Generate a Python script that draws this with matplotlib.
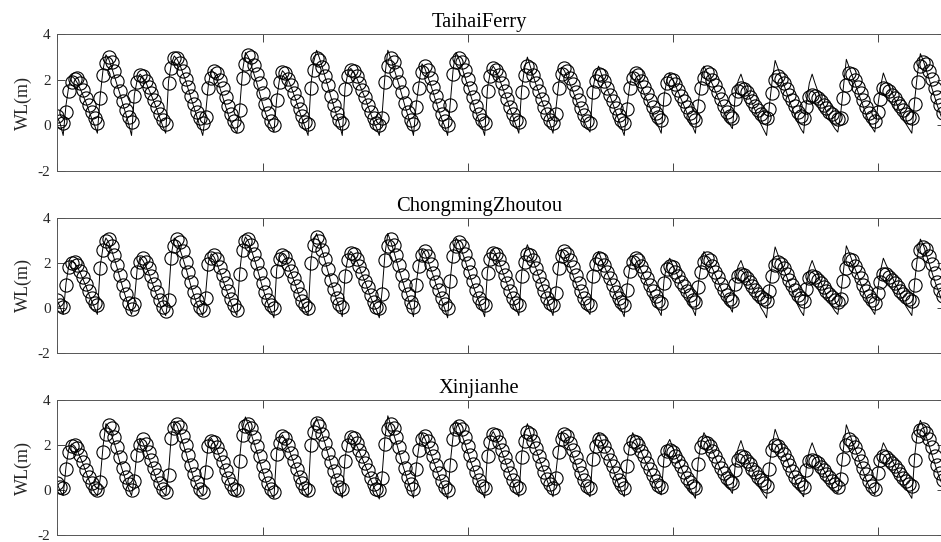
import numpy as np
import matplotlib.pyplot as plt

# Hourly water levels (m) at three stations: observed (circles) and simulated (line)
hours = np.arange(312)

taihai_obs = [
    0.40, 0.20,
    0.10, 0.60, 1.50, 1.90, 2.05, 2.10, 1.85, 1.55, 1.22, 0.90, 0.58, 0.30,
    0.10, 1.20, 2.20, 2.75, 3.00, 2.80, 2.40, 1.95, 1.50, 1.05, 0.65, 0.35,
    0.15, 1.30, 1.90, 2.20, 2.15, 1.95, 1.70, 1.40, 1.10, 0.80, 0.50, 0.25,
    0.05, 1.85, 2.50, 2.95, 2.95, 2.75, 2.40, 2.05, 1.70, 1.30, 0.95, 0.60, 0.30,
    0.10, 0.35, 1.65, 2.10, 2.40, 2.30, 2.00, 1.65, 1.25, 0.85, 0.50, 0.20,
    -0.05, 0.65, 2.10, 2.70, 3.10, 3.00, 2.65, 2.25, 1.85, 1.40, 0.95, 0.55, 0.20,
    0.00, 1.10, 1.90, 2.35, 2.30, 2.05, 1.75, 1.40, 1.05, 0.70, 0.40, 0.15,
    0.05, 1.65, 2.45, 2.95, 2.85, 2.55, 2.15, 1.75, 1.30, 0.90, 0.55, 0.25,
    0.10, 1.60, 2.15, 2.45, 2.40, 2.15, 1.85, 1.55, 1.25, 0.90, 0.60, 0.30, 0.10,
    0.00, 0.30, 1.90, 2.60, 2.95, 2.80, 2.35, 1.90, 1.45, 1.00, 0.60, 0.25,
    0.05, 0.80, 1.65, 2.35, 2.60, 2.45, 2.10, 1.70, 1.30, 0.90, 0.50, 0.20,
    0.00, 0.90, 2.25, 2.80, 2.95, 2.80, 2.45, 2.05, 1.65, 1.25, 0.85, 0.50, 0.25,
    0.10, 1.50, 2.15, 2.50, 2.45, 2.20, 1.85, 1.50, 1.15, 0.80, 0.50, 0.25,
    0.15, 1.45, 2.20, 2.60, 2.50, 2.20, 1.85, 1.50, 1.15, 0.80, 0.50, 0.25,
    0.10, 0.50, 1.65, 2.25, 2.50, 2.40, 2.10, 1.80, 1.45, 1.10, 0.75, 0.45, 0.20,
    0.10, 1.45, 1.95, 2.25, 2.20, 1.95, 1.65, 1.35, 1.05, 0.75, 0.45, 0.25,
    0.10, 0.70, 1.65, 2.10, 2.30, 2.20, 1.95, 1.70, 1.40, 1.10, 0.80, 0.55, 0.35,
    0.25, 1.15, 1.85, 2.05, 2.00, 1.80, 1.55, 1.30, 1.05, 0.80, 0.55, 0.35,
    0.25, 0.85, 1.65, 2.10, 2.35, 2.25, 2.00, 1.75, 1.45, 1.15, 0.85, 0.60, 0.40,
    0.30, 1.15, 1.50, 1.65, 1.60, 1.45, 1.25, 1.05, 0.85, 0.65, 0.50, 0.38,
    0.30, 0.70, 1.40, 2.00, 2.15, 2.05, 1.85, 1.60, 1.35, 1.10, 0.85, 0.60, 0.42,
    0.30, 0.80, 1.25, 1.35, 1.30, 1.20, 1.05, 0.90, 0.75, 0.60, 0.48, 0.38,
    0.28, 0.32, 1.20, 1.75, 2.30, 2.25, 2.00, 1.70, 1.40, 1.10, 0.80, 0.55, 0.35,
    0.20, 0.60, 1.15, 1.65, 1.60, 1.50, 1.35, 1.20, 1.00, 0.85, 0.65, 0.50, 0.38,
    0.30, 0.95, 1.90, 2.60, 2.80, 2.70, 2.40, 2.05, 1.65, 1.25, 0.90, 0.55,
]
taihai_sim = [
    0.35, 0.05,
    -0.45, 0.90, 1.75, 2.15, 2.05, 1.85, 1.60, 1.30, 1.00, 0.65, 0.30, 0.00,
    -0.35, 1.30, 2.45, 3.10, 2.90, 2.55, 2.15, 1.75, 1.35, 0.90, 0.50, 0.05,
    -0.45, 1.35, 2.00, 2.25, 2.10, 1.90, 1.60, 1.30, 1.00, 0.65, 0.30, -0.05,
    -0.35, 1.95, 2.70, 3.05, 2.90, 2.65, 2.30, 1.95, 1.55, 1.15, 0.75, 0.35, -0.05,
    -0.45, 0.50, 1.80, 2.45, 2.30, 2.00, 1.65, 1.25, 0.85, 0.45, 0.10, -0.15,
    -0.35, 0.80, 2.40, 3.20, 3.00, 2.65, 2.25, 1.85, 1.40, 0.95, 0.55, 0.20, -0.05,
    -0.30, 1.20, 2.05, 2.40, 2.25, 2.00, 1.70, 1.35, 1.00, 0.60, 0.25, -0.10,
    -0.45, 1.80, 2.80, 3.30, 2.95, 2.55, 2.10, 1.70, 1.25, 0.85, 0.45, 0.05,
    -0.45, 1.70, 2.30, 2.50, 2.35, 2.10, 1.80, 1.50, 1.20, 0.85, 0.50, 0.15, -0.10,
    -0.45, 0.50, 2.20, 3.30, 2.95, 2.55, 2.15, 1.75, 1.30, 0.85, 0.45, 0.05,
    -0.45, 0.95, 1.90, 2.70, 2.50, 2.15, 1.80, 1.40, 1.00, 0.60, 0.25, -0.05,
    -0.45, 1.10, 2.55, 3.20, 2.90, 2.55, 2.15, 1.75, 1.35, 0.95, 0.55, 0.20, -0.05,
    -0.45, 1.65, 2.35, 2.60, 2.40, 2.10, 1.75, 1.40, 1.05, 0.70, 0.35, 0.00,
    -0.35, 1.60, 2.50, 3.00, 2.60, 2.20, 1.80, 1.45, 1.10, 0.75, 0.40, 0.05,
    -0.35, 0.70, 1.85, 2.55, 2.40, 2.10, 1.80, 1.50, 1.15, 0.80, 0.45, 0.15, -0.10,
    -0.30, 1.60, 2.25, 2.60, 2.25, 1.95, 1.60, 1.30, 0.95, 0.60, 0.25, -0.10,
    -0.45, 0.85, 1.80, 2.35, 2.20, 1.95, 1.70, 1.40, 1.10, 0.80, 0.50, 0.20, -0.05,
    -0.35, 1.30, 2.00, 2.30, 2.00, 1.75, 1.45, 1.15, 0.85, 0.55, 0.25, -0.05,
    -0.35, 1.00, 1.95, 2.60, 2.35, 2.05, 1.80, 1.50, 1.20, 0.90, 0.60, 0.30, 0.05,
    -0.15, 1.30, 1.95, 2.25, 1.85, 1.55, 1.25, 0.95, 0.65, 0.35, 0.05, -0.20,
    -0.45, 0.90, 2.00, 2.85, 2.50, 2.15, 1.80, 1.45, 1.10, 0.75, 0.40, 0.10, -0.15,
    -0.35, 1.00, 1.85, 2.25, 1.85, 1.50, 1.20, 0.90, 0.60, 0.30, 0.05, -0.15,
    -0.30, 0.50, 1.70, 2.90, 2.55, 2.20, 1.85, 1.50, 1.15, 0.80, 0.45, 0.15, -0.10,
    -0.30, 0.80, 1.70, 2.30, 1.95, 1.70, 1.45, 1.15, 0.85, 0.55, 0.30, 0.05, -0.15,
    -0.35, 1.10, 2.30, 3.15, 2.85, 2.45, 2.05, 1.65, 1.25, 0.85, 0.50, 0.15,
]

chongming_obs = [
    0.35, 0.10,
    0.05, 1.00, 1.80, 2.00, 2.05, 1.90, 1.65, 1.35, 1.05, 0.75, 0.45, 0.20,
    0.10, 1.75, 2.55, 2.95, 3.05, 2.75, 2.35, 1.90, 1.45, 1.00, 0.60, 0.20,
    -0.05, 0.15, 1.60, 2.05, 2.20, 2.05, 1.75, 1.40, 1.05, 0.70, 0.35, 0.05,
    -0.15, 0.35, 2.20, 2.75, 3.05, 2.90, 2.50, 2.05, 1.60, 1.15, 0.70, 0.35, 0.05,
    -0.10, 0.45, 1.95, 2.20, 2.35, 2.15, 1.80, 1.45, 1.10, 0.75, 0.40, 0.10,
    -0.10, 1.50, 2.55, 2.95, 3.05, 2.80, 2.40, 2.00, 1.55, 1.10, 0.70, 0.35, 0.10,
    0.00, 1.65, 2.15, 2.35, 2.25, 1.95, 1.65, 1.30, 0.95, 0.60, 0.30, 0.10,
    0.00, 2.00, 2.80, 3.15, 2.95, 2.55, 2.15, 1.70, 1.25, 0.85, 0.45, 0.15,
    0.05, 1.40, 2.10, 2.45, 2.40, 2.15, 1.85, 1.55, 1.20, 0.90, 0.55, 0.25, 0.05,
    0.00, 0.60, 2.10, 2.75, 3.05, 2.80, 2.35, 1.90, 1.45, 1.00, 0.60, 0.25,
    0.05, 1.00, 1.85, 2.35, 2.50, 2.30, 1.95, 1.55, 1.15, 0.80, 0.45, 0.15,
    0.00, 1.20, 2.30, 2.75, 2.90, 2.75, 2.40, 2.00, 1.60, 1.20, 0.80, 0.45, 0.20,
    0.10, 1.55, 2.15, 2.45, 2.40, 2.15, 1.80, 1.45, 1.10, 0.75, 0.45, 0.20,
    0.10, 1.40, 2.05, 2.40, 2.35, 2.10, 1.75, 1.40, 1.05, 0.75, 0.45, 0.20,
    0.10, 0.65, 1.75, 2.30, 2.50, 2.40, 2.10, 1.80, 1.45, 1.10, 0.75, 0.45, 0.20,
    0.10, 1.40, 1.95, 2.20, 2.15, 1.90, 1.60, 1.30, 1.00, 0.70, 0.45, 0.25,
    0.10, 0.80, 1.65, 2.05, 2.20, 2.10, 1.85, 1.60, 1.30, 1.00, 0.75, 0.50, 0.30,
    0.20, 1.10, 1.70, 1.85, 1.80, 1.60, 1.40, 1.15, 0.95, 0.75, 0.55, 0.35,
    0.25, 0.90, 1.60, 2.05, 2.20, 2.10, 1.85, 1.60, 1.35, 1.05, 0.80, 0.55, 0.38,
    0.30, 1.05, 1.40, 1.50, 1.45, 1.30, 1.15, 0.95, 0.80, 0.62, 0.48, 0.38,
    0.30, 0.75, 1.40, 1.90, 2.05, 1.95, 1.75, 1.50, 1.25, 1.00, 0.78, 0.58, 0.42,
    0.30, 0.85, 1.30, 1.40, 1.35, 1.22, 1.08, 0.92, 0.76, 0.60, 0.46, 0.35,
    0.25, 0.40, 1.20, 1.75, 2.15, 2.10, 1.85, 1.60, 1.30, 1.00, 0.75, 0.50, 0.32,
    0.20, 0.65, 1.15, 1.50, 1.48, 1.38, 1.25, 1.08, 0.92, 0.76, 0.60, 0.48, 0.38,
    0.30, 1.00, 1.95, 2.55, 2.70, 2.60, 2.30, 1.95, 1.55, 1.15, 0.80, 0.50,
]
chongming_sim = [
    0.30, 0.00,
    -0.30, 1.10, 1.90, 2.10, 2.00, 1.80, 1.55, 1.25, 0.95, 0.60, 0.30, 0.00,
    -0.30, 1.85, 2.70, 3.10, 2.90, 2.55, 2.15, 1.75, 1.30, 0.85, 0.45, 0.05,
    -0.30, 0.30, 1.75, 2.25, 2.10, 1.85, 1.55, 1.20, 0.85, 0.50, 0.15, -0.15,
    -0.35, 0.50, 2.40, 3.10, 2.95, 2.60, 2.20, 1.80, 1.35, 0.90, 0.50, 0.15, -0.10,
    -0.35, 0.60, 2.05, 2.40, 2.25, 1.95, 1.60, 1.25, 0.90, 0.55, 0.20, -0.10,
    -0.35, 1.60, 2.75, 3.15, 2.95, 2.60, 2.20, 1.80, 1.35, 0.90, 0.50, 0.15, -0.15,
    -0.45, 1.75, 2.25, 2.40, 2.20, 1.90, 1.55, 1.20, 0.85, 0.50, 0.15, -0.10,
    -0.35, 2.10, 3.00, 3.30, 2.90, 2.50, 2.05, 1.60, 1.15, 0.75, 0.35, 0.00,
    -0.40, 1.50, 2.25, 2.50, 2.35, 2.10, 1.80, 1.45, 1.15, 0.80, 0.45, 0.15, -0.10,
    -0.45, 0.75, 2.40, 3.30, 2.95, 2.55, 2.10, 1.65, 1.25, 0.85, 0.45, 0.05,
    -0.40, 1.10, 2.05, 2.60, 2.40, 2.10, 1.75, 1.40, 1.00, 0.65, 0.30, -0.05,
    -0.45, 1.35, 2.55, 3.10, 2.85, 2.50, 2.15, 1.75, 1.35, 0.95, 0.60, 0.25, -0.05,
    -0.40, 1.65, 2.35, 2.60, 2.35, 2.05, 1.70, 1.35, 1.00, 0.65, 0.30, 0.00,
    -0.35, 1.55, 2.40, 2.80, 2.45, 2.10, 1.75, 1.40, 1.05, 0.70, 0.35, 0.00,
    -0.35, 0.80, 2.00, 2.60, 2.40, 2.10, 1.80, 1.45, 1.10, 0.80, 0.45, 0.15, -0.10,
    -0.30, 1.55, 2.20, 2.50, 2.15, 1.85, 1.55, 1.25, 0.90, 0.55, 0.20, -0.10,
    -0.40, 0.95, 1.85, 2.30, 2.15, 1.90, 1.65, 1.35, 1.05, 0.75, 0.45, 0.15, -0.10,
    -0.35, 1.25, 1.95, 2.20, 1.90, 1.65, 1.35, 1.05, 0.80, 0.50, 0.20, -0.05,
    -0.35, 1.05, 1.90, 2.50, 2.25, 2.00, 1.75, 1.45, 1.15, 0.85, 0.55, 0.25, 0.05,
    -0.20, 1.20, 1.85, 2.10, 1.75, 1.45, 1.15, 0.90, 0.60, 0.30, 0.00, -0.20,
    -0.45, 0.90, 1.95, 2.70, 2.35, 2.05, 1.70, 1.40, 1.05, 0.75, 0.40, 0.10, -0.15,
    -0.35, 1.00, 1.75, 2.10, 1.75, 1.45, 1.15, 0.85, 0.55, 0.30, 0.05, -0.15,
    -0.30, 0.55, 1.65, 2.75, 2.45, 2.10, 1.75, 1.45, 1.10, 0.75, 0.45, 0.15, -0.10,
    -0.30, 0.80, 1.65, 2.20, 1.90, 1.65, 1.40, 1.10, 0.85, 0.55, 0.30, 0.05, -0.15,
    -0.35, 1.15, 2.30, 3.05, 2.80, 2.40, 2.00, 1.60, 1.20, 0.85, 0.50, 0.15,
]

xinjianhe_obs = [
    0.30, 0.15,
    0.10, 0.95, 1.70, 1.95, 2.00, 1.85, 1.55, 1.25, 0.90, 0.60, 0.30, 0.10,
    0.00, 0.35, 1.70, 2.50, 2.90, 2.75, 2.35, 1.90, 1.45, 1.00, 0.60, 0.25,
    0.00, 0.40, 1.55, 2.00, 2.25, 2.05, 1.70, 1.35, 1.00, 0.65, 0.30, 0.05,
    -0.10, 0.65, 2.30, 2.75, 2.95, 2.80, 2.40, 2.00, 1.55, 1.10, 0.70, 0.35, 0.05,
    -0.10, 0.80, 1.95, 2.20, 2.15, 1.90, 1.60, 1.25, 0.90, 0.55, 0.25, 0.05,
    0.00, 1.30, 2.45, 2.85, 2.95, 2.75, 2.35, 1.95, 1.50, 1.05, 0.65, 0.30, 0.05,
    -0.10, 1.60, 2.10, 2.40, 2.30, 2.00, 1.65, 1.30, 0.95, 0.60, 0.30, 0.10,
    0.00, 2.00, 2.60, 3.00, 2.85, 2.50, 2.10, 1.65, 1.25, 0.85, 0.45, 0.15,
    0.05, 1.30, 2.00, 2.35, 2.30, 2.10, 1.80, 1.50, 1.20, 0.90, 0.55, 0.25, 0.05,
    0.00, 0.55, 2.05, 2.70, 2.95, 2.75, 2.35, 1.90, 1.45, 1.00, 0.60, 0.25,
    0.05, 0.95, 1.80, 2.25, 2.40, 2.20, 1.85, 1.50, 1.10, 0.75, 0.40, 0.15,
    0.00, 1.10, 2.25, 2.70, 2.85, 2.70, 2.35, 1.95, 1.55, 1.15, 0.80, 0.45, 0.20,
    0.10, 1.50, 2.15, 2.50, 2.45, 2.15, 1.80, 1.45, 1.10, 0.75, 0.45, 0.20,
    0.10, 1.45, 2.20, 2.60, 2.50, 2.20, 1.85, 1.50, 1.15, 0.80, 0.50, 0.25,
    0.10, 0.55, 1.70, 2.25, 2.50, 2.40, 2.10, 1.80, 1.45, 1.10, 0.75, 0.45, 0.20,
    0.10, 1.40, 1.95, 2.25, 2.20, 1.95, 1.65, 1.35, 1.05, 0.75, 0.45, 0.25,
    0.10, 1.05, 1.85, 2.20, 2.15, 2.00, 1.75, 1.50, 1.20, 0.95, 0.65, 0.40, 0.22,
    0.15, 1.35, 1.75, 1.80, 1.70, 1.50, 1.30, 1.05, 0.80, 0.55, 0.35, 0.20,
    0.10, 1.15, 1.90, 2.15, 2.10, 1.95, 1.75, 1.50, 1.25, 1.00, 0.75, 0.55, 0.40,
    0.30, 0.90, 1.35, 1.50, 1.45, 1.30, 1.15, 0.95, 0.78, 0.60, 0.45, 0.30,
    0.20, 0.95, 1.80, 2.00, 1.95, 1.80, 1.60, 1.35, 1.10, 0.85, 0.60, 0.40, 0.25,
    0.15, 0.90, 1.30, 1.35, 1.30, 1.18, 1.03, 0.88, 0.72, 0.56, 0.40, 0.27,
    0.15, 0.50, 1.40, 2.00, 2.25, 2.15, 1.90, 1.60, 1.30, 1.00, 0.70, 0.40, 0.18,
    0.05, 0.75, 1.35, 1.50, 1.45, 1.35, 1.20, 1.05, 0.88, 0.72, 0.55, 0.40, 0.28,
    0.20, 1.35, 2.40, 2.65, 2.70, 2.55, 2.25, 1.90, 1.50, 1.10, 0.75, 0.45,
]
xinjianhe_sim = [
    0.25, -0.05,
    -0.25, 1.05, 1.85, 2.05, 1.95, 1.75, 1.45, 1.15, 0.80, 0.45, 0.15, -0.10,
    -0.25, 0.50, 1.95, 2.95, 2.80, 2.45, 2.05, 1.65, 1.20, 0.80, 0.40, 0.05,
    -0.25, 0.55, 1.80, 2.30, 2.10, 1.80, 1.45, 1.10, 0.75, 0.40, 0.10, -0.10,
    -0.25, 0.80, 2.50, 3.05, 2.85, 2.50, 2.10, 1.70, 1.25, 0.85, 0.45, 0.15, -0.10,
    -0.25, 0.95, 2.10, 2.30, 2.10, 1.80, 1.45, 1.10, 0.75, 0.40, 0.10, -0.10,
    -0.30, 1.45, 2.75, 3.25, 2.90, 2.50, 2.10, 1.70, 1.25, 0.85, 0.45, 0.10, -0.15,
    -0.37, 1.75, 2.25, 2.45, 2.20, 1.90, 1.55, 1.20, 0.85, 0.50, 0.15, -0.10,
    -0.30, 2.15, 2.85, 3.20, 2.85, 2.45, 2.05, 1.60, 1.15, 0.75, 0.35, 0.00,
    -0.35, 1.45, 2.20, 2.45, 2.25, 2.00, 1.70, 1.40, 1.10, 0.80, 0.45, 0.15, -0.10,
    -0.40, 0.70, 2.35, 3.30, 2.90, 2.50, 2.10, 1.65, 1.20, 0.80, 0.40, 0.05,
    -0.35, 1.10, 2.00, 2.55, 2.30, 2.00, 1.65, 1.30, 0.95, 0.60, 0.25, -0.05,
    -0.40, 1.30, 2.50, 3.05, 2.80, 2.45, 2.10, 1.70, 1.30, 0.95, 0.55, 0.20, -0.05,
    -0.35, 1.65, 2.35, 2.60, 2.35, 2.05, 1.70, 1.35, 1.00, 0.65, 0.30, 0.00,
    -0.30, 1.60, 2.50, 2.95, 2.55, 2.15, 1.80, 1.45, 1.10, 0.75, 0.40, 0.05,
    -0.30, 0.75, 1.90, 2.60, 2.40, 2.10, 1.80, 1.50, 1.15, 0.80, 0.45, 0.15, -0.10,
    -0.30, 1.55, 2.20, 2.55, 2.20, 1.90, 1.60, 1.30, 0.95, 0.60, 0.25, -0.05,
    -0.30, 1.20, 2.10, 2.55, 2.25, 1.95, 1.70, 1.40, 1.10, 0.80, 0.50, 0.20, 0.00,
    -0.22, 1.45, 2.00, 2.25, 1.90, 1.60, 1.30, 1.00, 0.70, 0.40, 0.10, -0.15,
    -0.37, 1.30, 2.10, 2.55, 2.30, 2.05, 1.75, 1.45, 1.15, 0.85, 0.55, 0.25, 0.05,
    -0.15, 1.10, 1.85, 2.20, 1.80, 1.50, 1.20, 0.90, 0.60, 0.30, 0.00, -0.20,
    -0.37, 1.10, 2.05, 2.70, 2.35, 2.05, 1.70, 1.40, 1.05, 0.75, 0.45, 0.15, -0.10,
    -0.30, 1.05, 1.75, 2.10, 1.75, 1.45, 1.15, 0.90, 0.65, 0.40, 0.15, -0.05,
    -0.15, 0.70, 1.85, 2.90, 2.55, 2.20, 1.85, 1.50, 1.15, 0.80, 0.45, 0.15, -0.05,
    -0.22, 0.90, 1.65, 2.10, 1.85, 1.60, 1.35, 1.10, 0.85, 0.55, 0.30, 0.05, -0.15,
    -0.37, 1.50, 2.65, 3.10, 2.80, 2.40, 2.00, 1.60, 1.20, 0.80, 0.45, 0.15,
]

stations = ['TaihaiFerry', 'ChongmingZhoutou', 'Xinjianhe']
observed = [taihai_obs, chongming_obs, xinjianhe_obs]
simulated = [taihai_sim, chongming_sim, xinjianhe_sim]

plt.rcParams['font.family'] = ['Liberation Serif', 'DejaVu Serif']
plt.rcParams['axes.unicode_minus'] = False

fig = plt.figure(figsize=(9.41, 5.42), dpi=100)
# panel positions (left, bottom, width, height) in figure fractions
positions = [[0.0611, 0.685, 0.943, 0.2517],
             [0.0611, 0.3493, 0.943, 0.249],
             [0.0611, 0.0129, 0.943, 0.249]]

for pos, name, obs, sim in zip(positions, stations, observed, simulated):
    ax = fig.add_axes(pos)
    ax.plot(hours, sim, color='k', lw=0.7)
    ax.plot(hours, obs, 'o', ms=9.5, mfc='none', mec='k', mew=0.8)
    ax.set_xlim(0, 311.6)
    ax.set_ylim(-2, 4)
    ax.set_xticks([0, 72, 144, 216, 288])
    ax.set_yticks([-2, 0, 2, 4])
    ax.tick_params(direction='in', top=True, right=True, length=6, width=0.6,
                   labelbottom=False, labelsize=11, pad=5, colors='#262626')
    for s in ax.spines.values():
        s.set_color('#555555')
        s.set_linewidth(0.7)
    ax.set_ylabel('WL(m)', fontsize=13, color='#262626', labelpad=4)
    ax.set_title(name, fontsize=14.8, x=0.475, pad=5)

fig.savefig('out.png', dpi=100)
